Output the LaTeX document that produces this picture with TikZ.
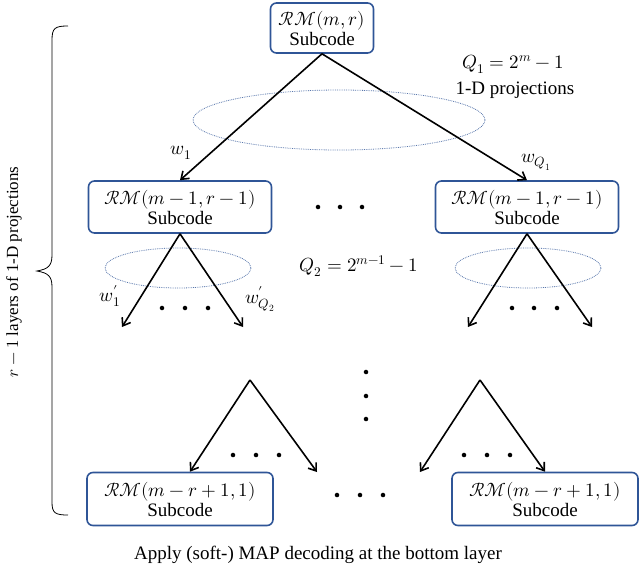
\documentclass[tikz,border=0pt]{standalone}
\usepackage{unicode-math}
\setmainfont{Liberation Serif}
\setmathfont{Latin Modern Math}
\usetikzlibrary{arrows.meta}
\definecolor{bx}{RGB}{47,85,151}
\begin{document}
\begin{tikzpicture}[x=1pt,y=-1pt,
  box/.style={draw=bx,line width=1.6pt,rounded corners=6pt,align=center,font=\fontsize{19}{20}\selectfont,inner sep=1pt},
  arrow/.style={line width=1.6pt,-{Straight Barb[length=7pt,width=10pt]}},
  ell/.style={draw=bx!80,densely dotted,line width=0.8pt},
  lbl/.style={font=\fontsize{19}{20}\selectfont},
  dot/.style={fill=black,circle,inner sep=1.6pt}]
\useasboundingbox (0,0) rectangle (640,568);
\node[box,minimum width=103pt,minimum height=50pt] (top) at (322,28) {$\mathcal{RM}(m,r)$\\Subcode};
\node[box,minimum width=183pt,minimum height=52pt] (L1) at (180,207) {$\mathcal{RM}(m-1,r-1)$\\Subcode};
\node[box,minimum width=183pt,minimum height=52pt] (R1) at (527,207) {$\mathcal{RM}(m-1,r-1)$\\Subcode};
\node[box,minimum width=186pt,minimum height=53pt] (L2) at (180,499) {$\mathcal{RM}(m-r+1,1)$\\Subcode};
\node[box,minimum width=186pt,minimum height=53pt] (R2) at (545,499) {$\mathcal{RM}(m-r+1,1)$\\Subcode};
\draw[ell] (339,120) ellipse (146 and 30);
\draw[ell] (178,268) ellipse (73 and 20);
\draw[ell] (528,268) ellipse (73 and 20);
\draw[arrow] (top.south) -- (L1.north);
\draw[arrow] (top.south) -- (R1.north);
\coordinate (a1) at (122,327); \coordinate (a2) at (243,327);
\coordinate (a3) at (468,327); \coordinate (a4) at (592,327);
\draw[arrow] (L1.south) -- (a1); \draw[arrow] (L1.south) -- (a2);
\draw[arrow] (R1.south) -- (a3); \draw[arrow] (R1.south) -- (a4);
\coordinate (p1) at (250,380); \coordinate (p2) at (480,380);
\coordinate (b2) at (317,472); \coordinate (b3) at (420,472);
\draw[arrow] (p1) -- (L2.north -| 190,0); \draw[arrow] (p1) -- (b2);
\draw[arrow] (p2) -- (b3); \draw[arrow] (p2) -- (R2.north);
\node[lbl] (w1) at (181,153) {$w_1$};
\node[lbl] (wq) at (536,162) {$w_{Q_1}$};
\node[lbl] (w1p) at (110,296) {$w'_{1}$};
\node[lbl] (wqp) at (260,299) {$w'_{Q_2}$};
\node[lbl] (q1) at (513,64) {$Q_1=2^m-1$};
\node[lbl] (proj) at (515,90) {1-D projections};
\node[lbl] (q2) at (359,266) {$Q_2=2^{m-1}-1$};
\foreach \x in {318,340,362} \node[dot] at (\x,207) {};
\foreach \x in {162,185,208} \node[dot] at (\x,308) {};
\foreach \x in {512,534,557} \node[dot] at (\x,308) {};
\foreach \y in {372,396,419} \node[dot] at (366,\y) {};
\foreach \x in {233,256,279} \node[dot] at (\x,455) {};
\foreach \x in {464,487,510} \node[dot] at (\x,455) {};
\foreach \x in {337,360,383} \node[dot] at (\x,495) {};
\node[lbl] (cap) at (318,555) {Apply (soft-) MAP decoding at the bottom layer};
\draw[line width=0.8pt] (68,26) .. controls (55,26) and (52,28) .. (52,40) -- (52,255) .. controls (52,266) and (48,269) .. (37,271)
  .. controls (48,273) and (52,276) .. (52,287) -- (52,502) .. controls (52,513) and (55,515) .. (68,515);
\node[font=\fontsize{17}{18}\selectfont,rotate=90] (side) at (14,272) {$r-1$ layers of 1-D projections};
\end{tikzpicture}
\end{document}
